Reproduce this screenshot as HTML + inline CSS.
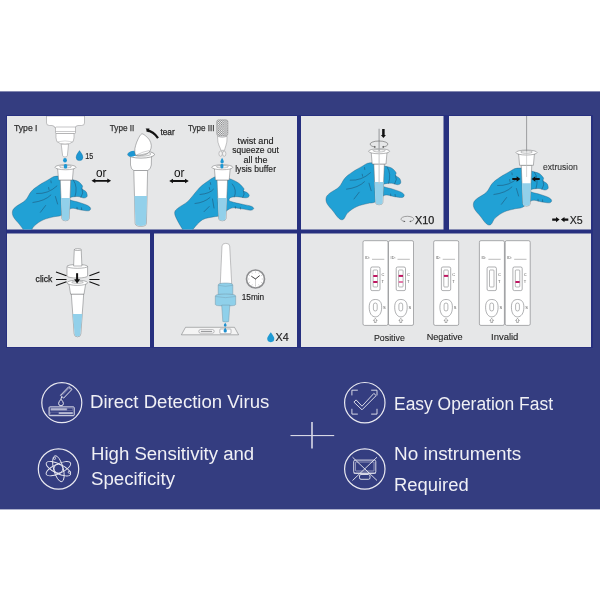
<!DOCTYPE html>
<html><head><meta charset="utf-8">
<style>
html,body{margin:0;padding:0;background:#fff;width:600px;height:600px;overflow:hidden}
svg{display:block;will-change:transform}
text{font-family:"Liberation Sans",sans-serif}
</style></head>
<body>
<svg width="600" height="600" viewBox="0 0 600 600">
<defs>
  <pattern id="chk" x="216.7" y="119.8" width="2.2" height="2.2" patternUnits="userSpaceOnUse">
    <rect x="0" y="0" width="1.1" height="1.1" fill="#7a7b7d"/><rect x="1.1" y="1.1" width="1.1" height="1.1" fill="#7a7b7d"/>
  </pattern>
  <clipPath id="c1"><rect x="7" y="116" width="290" height="113.5"/></clipPath>
  <clipPath id="c2"><rect x="301" y="116" width="142.5" height="113.5"/></clipPath>
  <clipPath id="c3"><rect x="449" y="116" width="142" height="113.5"/></clipPath>
  <g id="hand">
    <path fill="#21a1d5" stroke="#24506e" stroke-width="0.35" d="M-5.6,13.3 C-3.7,13.3 -1.8,13.1 0.0,13.6 C1.8,14.1 2.8,15.5 4.9,16.3 C7.0,17.1 10.4,17.4 12.4,18.5 C14.4,19.6 16.2,21.8 16.9,23.0 C17.6,24.2 16.0,25.0 16.6,26.0 C17.2,27.0 19.8,27.8 20.6,29.0 C21.4,30.2 22.0,32.5 21.6,33.5 C21.2,34.5 19.9,35.2 18.4,35.2 C16.9,35.2 14.5,33.8 12.4,33.7 C10.3,33.6 7.0,34.0 5.6,34.4 C4.2,34.8 4.0,35.5 4.0,36.0 C4.0,36.5 3.9,36.9 5.6,37.5 C7.2,38.1 11.2,38.8 13.9,39.7 C16.6,40.6 20.2,41.7 22.1,42.7 C24.0,43.7 25.0,44.8 25.1,45.7 C25.2,46.6 24.5,47.8 22.9,48.0 C21.3,48.2 18.3,47.6 15.4,47.2 C12.5,46.8 8.8,44.8 5.6,45.7 C2.4,46.6 -1.1,51.1 -4.0,52.5 C-6.9,53.9 -8.6,53.2 -11.6,54.0 C-14.6,54.8 -18.9,55.5 -22.1,57.0 C-25.4,58.5 -28.9,60.9 -31.1,63.0 C-33.4,65.1 -34.1,68.7 -35.6,69.7 C-37.1,70.7 -38.4,70.4 -40.1,69.0 C-41.9,67.6 -44.1,64.0 -46.1,61.5 C-48.1,59.0 -51.0,56.2 -52.1,54.0 C-53.2,51.8 -53.4,49.8 -52.9,48.0 C-52.4,46.2 -51.2,45.2 -49.1,43.5 C-47.0,41.8 -42.6,40.0 -40.1,37.5 C-37.6,35.0 -36.4,31.0 -34.1,28.5 C-31.9,26.0 -29.4,24.4 -26.6,22.5 C-23.9,20.6 -20.1,18.6 -17.6,17.2 C-15.1,15.8 -13.6,14.5 -11.6,13.8 C-9.6,13.2 -7.5,13.3 -5.6,13.3 Z"/>
    <g fill="none" stroke="#1f3f5c" stroke-width="0.45" stroke-linecap="round">
      <path d="M-28.9,30.7 Q-17.6,31.5 -8.6,23.2"/>
      <path d="M-32.6,39.7 Q-20.6,38.2 -14.6,32.2"/>
      <path d="M-25.1,49.5 L-19.9,42.7"/>
      <path d="M-10.1,33.7 L-7.9,41.2"/>
      <path d="M-14.6,18 L-14.3,20"/>
      <path d="M-16.9,24.7 L-16.5,26.7"/>
      <path d="M8,17.5 Q12.5,24 9.5,33.8"/>
      <path d="M16.6,26 Q18.5,30 15.5,34.5"/>
      <path d="M11.5,44.5 L11.7,46.3"/>
      <path d="M16,45 L16.2,46.8"/>
    </g>
  </g>
  <g id="hand3">
    <path fill="#21a1d5" stroke="#24506e" stroke-width="0.35" d="M-7.8,12.0 C-6.0,11.3 -4.6,11.2 -3.0,11.3 C-1.4,11.4 0.1,12.0 2.0,12.5 C4.0,13.0 6.3,13.2 8.7,14.2 C11.1,15.1 14.4,16.6 16.5,18.2 C18.6,19.8 20.7,22.2 21.5,23.5 C22.3,24.8 20.6,25.1 21.2,25.8 C21.8,26.6 24.4,27.1 25.4,28.0 C26.3,28.9 27.2,30.2 26.9,31.0 C26.6,31.8 25.7,32.7 23.7,32.8 C21.7,32.9 17.2,31.8 14.7,31.7 C12.2,31.6 10.0,31.9 8.7,32.4 C7.4,32.9 6.8,33.8 6.8,34.5 C6.8,35.2 6.4,35.8 8.7,36.6 C11.0,37.4 17.3,38.6 20.7,39.4 C24.1,40.2 27.1,40.5 28.9,41.2 C30.7,41.9 31.5,42.9 31.4,43.6 C31.3,44.3 30.2,45.2 28.2,45.2 C26.2,45.2 22.4,44.1 19.2,43.8 C15.9,43.5 12.2,42.1 8.7,43.2 C5.2,44.3 0.8,49.1 -2.0,50.5 C-4.8,51.9 -4.8,51.0 -7.8,51.7 C-10.8,52.4 -16.3,52.7 -19.8,54.7 C-23.3,56.7 -26.6,61.2 -28.8,63.7 C-31.0,66.2 -31.5,69.5 -33.0,70.0 C-34.5,70.5 -35.8,69.5 -37.8,67.0 C-39.8,64.5 -43.7,58.0 -45.3,54.7 C-46.9,51.4 -47.9,49.2 -47.6,47.2 C-47.4,45.2 -45.9,44.5 -43.8,42.7 C-41.7,41.0 -37.4,39.0 -34.8,36.7 C-32.2,34.5 -30.5,31.7 -28.3,29.2 C-26.1,26.7 -24.2,23.9 -21.8,21.7 C-19.4,19.4 -16.1,17.3 -13.8,15.7 C-11.5,14.1 -9.6,12.7 -7.8,12.0 Z"/>
    <g fill="none" stroke="#1f3f5c" stroke-width="0.45" stroke-linecap="round">
      <path d="M-22.3,29.5 Q-12.5,28.7 -8.8,24.2"/>
      <path d="M-27.3,38.5 Q-18.3,37.7 -12.3,32.5"/>
      <path d="M-18.3,46.7 L-13.1,41.5"/>
      <path d="M-9.8,34 L-8.3,43"/>
      <path d="M-12,17.5 L-11.6,19.5"/>
      <path d="M-13,22.5 L-12.6,24.5"/>
      <path d="M10,19 Q15,25 12,32"/>
      <path d="M21.2,25.8 Q23,29 20.5,32.5"/>
      <path d="M13,41.5 L13.2,43.3"/>
      <path d="M18,42.3 L18.2,44.1"/>
    </g>
  </g>
  <g id="tube">
    <path fill="#fff" stroke="#6d6e71" stroke-width="0.5" d="M-5.25,15 L-3.7,53.5 Q-3.6,55.8 0,55.8 Q3.6,55.8 3.7,53.5 L5.25,15 Z"/>
    <path fill="#92d0ea" d="M-4.45,33 L-3.45,53.5 Q-3.4,55.5 0,55.5 Q3.4,55.5 3.45,53.5 L4.45,33 Z"/>
    <path fill="#fff" stroke="#6d6e71" stroke-width="0.5" d="M-7.9,3.5 L-6.9,15 L6.9,15 L7.9,3.5 Z"/>
    <ellipse cx="0" cy="2.25" rx="10.5" ry="2.5" fill="#fff" stroke="#6d6e71" stroke-width="0.5"/>
    <ellipse cx="0" cy="1.7" rx="6" ry="1.3" fill="#f4f4f4" stroke="#6d6e71" stroke-width="0.4"/>
  </g>
  <g id="casbase">
    <rect x="0" y="0" width="25" height="84.7" rx="1.5" fill="#fff" stroke="#6d6e71" stroke-width="0.55"/>
    <text x="2.1" y="18.3" font-size="3.8" fill="#555">ID:</text>
    <path d="M9,18.6 L21.3,18.6" stroke="#555" stroke-width="0.4"/>
    <rect x="7.7" y="26.3" width="9.3" height="23.6" rx="1.5" fill="#fff" stroke="#6d6e71" stroke-width="0.55"/>
    <rect x="10.1" y="29.3" width="4.5" height="17" rx="0.8" fill="#fff" stroke="#6d6e71" stroke-width="0.5"/>
    <text x="18.6" y="35.6" font-size="4" fill="#555">C</text>
    <text x="18.6" y="42.4" font-size="4" fill="#555">T</text>
    <path d="M12.4,58.8 C16.3,58.8 18.7,61 18.7,66.5 C18.7,72.5 16,76.2 12.4,76.2 C8.8,76.2 6.2,72.5 6.2,66.5 C6.2,61 8.5,58.8 12.4,58.8 Z" fill="#fff" stroke="#6d6e71" stroke-width="0.55"/>
    <rect x="10.4" y="62.3" width="3.8" height="8" rx="1.9" fill="#fff" stroke="#6d6e71" stroke-width="0.5"/>
    <text x="20.1" y="68.6" font-size="4" fill="#555">S</text>
    <path d="M12.3,77.6 L14.2,79.8 L13.2,79.8 L13.2,81.8 L11.4,81.8 L11.4,79.8 L10.4,79.8 Z" fill="#fff" stroke="#555" stroke-width="0.45"/>
  </g>
  <g id="dblarrow">
    <path d="M-7,0 L7,0" stroke="#111" stroke-width="1.8"/>
    <path d="M-9.8,0 L-6,-2.3 L-6,2.3 Z M9.8,0 L6,-2.3 L6,2.3 Z" fill="#111"/>
  </g>
</defs>

<!-- band -->
<rect x="0" y="91.4" width="600" height="418" fill="#343d80"/>
<!-- panel gaps darker -->
<rect x="6" y="115" width="587" height="233" fill="#27307f"/>
<!-- panels -->
<rect x="7" y="116" width="290" height="113.5" fill="#e6e7e8"/>
<rect x="301" y="116" width="142.5" height="113.5" fill="#e6e7e8"/>
<rect x="449" y="116" width="142" height="113.5" fill="#e6e7e8"/>
<rect x="7" y="233.5" width="143" height="113.5" fill="#e6e7e8"/>
<rect x="154" y="233.5" width="143" height="113.5" fill="#e6e7e8"/>
<rect x="301" y="233.5" width="290" height="113.5" fill="#e6e7e8"/>

<!-- ===== Panel 1 ===== -->
<g clip-path="url(#c1)">
  <text x="14" y="131" font-size="8.6" fill="#333" textLength="23.5" lengthAdjust="spacingAndGlyphs" stroke="#333" stroke-width="0.25">Type I</text>
  <!-- bottle -->
  <path fill="#fff" stroke="#8a8b8d" stroke-width="0.5" d="M46.5,116 L46.5,123 Q46.5,125.5 49.5,125.5 L52,125.5 Q55,126 55,128 L75,128 Q75,126 78,125.5 L81.5,125.5 Q84.5,125.5 84.5,123 L84.5,116 Z"/>
  <rect x="55.5" y="127" width="20" height="6.5" rx="0.8" fill="#fff" stroke="#8a8b8d" stroke-width="0.5"/>
  <path d="M55.7,131.5 L75.3,131.5" stroke="#8a8b8d" stroke-width="0.45"/>
  <path fill="#fff" stroke="#8a8b8d" stroke-width="0.5" d="M56,133.5 Q55.6,138 56.8,141.5 Q60,144.3 65,144.3 Q70,144.3 73.2,141.5 Q74.4,138 74,133.5 Z"/>
  <path d="M57.5,141.8 Q65,140 72.5,141.8" fill="none" stroke="#a0a1a3" stroke-width="0.4"/>
  <path fill="#fff" stroke="#8a8b8d" stroke-width="0.5" d="M61.2,144.2 L62.6,155.5 Q62.8,157 65,157 Q67.2,157 67.4,155.5 L68.5,144.2 Z"/>
  <ellipse cx="65" cy="160.3" rx="1.9" ry="2.2" fill="#1d97d3"/>
  <path d="M79.5,150.6 Q76.1,155 76.1,157.2 A3.4,3.4 0 0 0 82.9,157.2 Q82.9,155 79.5,150.6 Z" fill="#1d97d3" stroke="#1a6f9c" stroke-width="0.35"/>
  <text x="85.2" y="158.8" font-size="9.6" fill="#222" stroke="#222" stroke-width="0.15" textLength="8" lengthAdjust="spacingAndGlyphs">15</text>
  <use href="#hand" transform="translate(65.5,162.8)"/>
  <use href="#tube" transform="translate(65.5,165)"/>
  <rect x="63.8" y="164" width="3.4" height="4.5" rx="1.5" fill="#1d97d3"/>

  <text x="96" y="176.7" font-size="12.3" fill="#111" textLength="10.5" lengthAdjust="spacingAndGlyphs">or</text>
  <use href="#dblarrow" transform="translate(101.3,180.8)"/>

  <text x="109.8" y="131" font-size="8.8" fill="#333" textLength="24.6" lengthAdjust="spacingAndGlyphs" stroke="#333" stroke-width="0.25">Type II</text>
  <path d="M146.5,130.3 Q153.5,131 158,138.2" fill="none" stroke="#111" stroke-width="2.2"/>
  <path d="M145.6,128.6 L149.5,128.6 L148.5,132.4 Z" fill="#111"/>
  <text x="160.5" y="135" font-size="8.6" fill="#222" textLength="14.2" lengthAdjust="spacingAndGlyphs" stroke="#222" stroke-width="0.25">tear</text>
  <!-- type II tube -->
  <path fill="#fff" stroke="#6d6e71" stroke-width="0.5" d="M133.8,170.5 L135.2,223.5 Q135.3,226.3 140.8,226.3 Q146.3,226.3 146.4,223.5 L147.6,170.5 Z"/>
  <path fill="#92d0ea" d="M134.4,196 L135.5,223.3 Q135.6,226 140.8,226 Q146,226 146.1,223.3 L147.1,196 Z"/>
  <path fill="#fff" stroke="#6d6e71" stroke-width="0.5" d="M130.5,155 L130.5,165 Q131,169.5 133.8,170.5 L147.6,170.5 Q150.8,169.5 151.3,165 L151.5,155 Z"/>
  <ellipse cx="141" cy="154.5" rx="13.5" ry="3.6" fill="#fff" stroke="#6d6e71" stroke-width="0.6"/>
  <ellipse cx="141.5" cy="154" rx="9.5" ry="2.2" fill="#f2f2f2" stroke="#6d6e71" stroke-width="0.4"/>
  <path d="M127.6,154 Q129,151 134.5,150.8 L136,155.5 Q133,157 129.5,156.5 Q127.5,155.5 127.6,154 Z" fill="#1d97d3"/>
  <path fill="#fff" stroke="#6d6e71" stroke-width="0.5" d="M141.6,134.0 C142.8,133.5 144.2,134.8 145.5,135.8 C146.8,136.8 148.5,138.4 149.5,140.0 C150.5,141.6 151.2,143.8 151.3,145.5 C151.4,147.2 151.0,149.1 150.2,150.5 C149.3,151.9 148.4,153.3 146.2,154.2 C144.0,155.1 138.9,156.1 137.0,155.7 C135.1,155.2 135.0,153.2 134.8,151.5 C134.6,149.8 135.0,147.6 135.6,145.5 C136.2,143.4 137.2,140.7 138.2,138.8 C139.2,136.9 140.4,134.5 141.6,134.0 Z"/>
  <path d="M136.5,155 Q143,151.5 149.5,150.5" fill="none" stroke="#8a8b8d" stroke-width="0.4"/>
  <path d="M136,155.4 Q142,154.8 148,153" fill="none" stroke="#6d6e71" stroke-width="0.4"/>

  <text x="174" y="176.5" font-size="12.3" fill="#111" textLength="10.5" lengthAdjust="spacingAndGlyphs">or</text>
  <use href="#dblarrow" transform="translate(179,181)"/>

  <text x="188" y="130.7" font-size="8.8" fill="#333" textLength="26.5" lengthAdjust="spacingAndGlyphs" stroke="#333" stroke-width="0.25">Type III</text>
  <!-- ampoule -->
  <rect x="216.7" y="119.8" width="11.2" height="16" rx="2" fill="#fff" stroke="#8a8b8d" stroke-width="0.5"/>
  <rect x="216.7" y="119.8" width="11.2" height="16" rx="2" fill="url(#chk)"/>
  <path fill="#fff" stroke="#8a8b8d" stroke-width="0.5" d="M217.5,136.4 Q222.3,138.2 227.1,136.4 Q227.2,143 225.8,146 Q224.8,148.5 224.6,150.3 L220.8,150.3 Q220.6,148.5 219.2,146 Q217.5,143 217.5,136.4 Z"/>
  <ellipse cx="220.6" cy="153.7" rx="1.7" ry="2.6" fill="#f2f2f2" stroke="#8a8b8d" stroke-width="0.45"/>
  <ellipse cx="224.2" cy="153.7" rx="1.7" ry="2.6" fill="#f2f2f2" stroke="#8a8b8d" stroke-width="0.45"/>
  <path d="M222.1,157.8 Q220.4,160.5 220.4,161.8 A1.7,1.7 0 0 0 223.8,161.8 Q223.8,160.5 222.1,157.8 Z" fill="#1d97d3"/>
  <g font-size="8.8" fill="#222" text-anchor="middle" stroke="#222" stroke-width="0.15">
    <text x="255.6" y="143.6" textLength="36" lengthAdjust="spacingAndGlyphs">twist and</text>
    <text x="255.5" y="153.2" textLength="46.6" lengthAdjust="spacingAndGlyphs">squeeze out</text>
    <text x="255.6" y="162.7" textLength="24" lengthAdjust="spacingAndGlyphs">all the</text>
    <text x="255.6" y="171.7" textLength="40.8" lengthAdjust="spacingAndGlyphs">lysis buffer</text>
  </g>
  <use href="#hand3" transform="translate(222.3,165)"/>
  <use href="#tube" transform="translate(222.3,165)"/>
  <rect x="220.4" y="164" width="3" height="4.5" rx="1.4" fill="#1d97d3"/>
</g>

<!-- ===== Panel 2 ===== -->
<g clip-path="url(#c2)">
  <use href="#hand" transform="translate(379.1,149.5)"/>
  <use href="#tube" transform="translate(379.1,149)"/>
  <path d="M379.1,128.8 L379.1,151" stroke="#a7a9ab" stroke-width="1.3"/>
  <path d="M379.1,151 L379.1,184" stroke="#c4c5c7" stroke-width="1"/>
  <path d="M383.4,129 L383.4,135.2" stroke="#111" stroke-width="2.5"/>
  <path d="M380.9,134.9 L385.9,134.9 L383.4,137.9 Z" fill="#111"/>
  <path d="M374.89,147.04 A8.9,3.2 0 1 1 383.11,147.04" fill="none" stroke="#555" stroke-width="0.55"/><path d="M376.15,146.94 L374.19,145.78 L374.19,147.88 Z M381.85,146.94 L383.81,145.78 L383.81,147.88 Z" fill="#555"/>
  <text x="415" y="224" font-size="10.5" fill="#222" textLength="19.3" lengthAdjust="spacingAndGlyphs" stroke="#222" stroke-width="0.25">X10</text>
  <path d="M404.42,221.58 A6.35,2.8 0 1 1 410.28,221.58" fill="none" stroke="#555" stroke-width="0.5"/><path d="M405.50,221.48 L403.82,220.50 L403.82,222.30 Z M409.20,221.48 L410.88,220.50 L410.88,222.30 Z" fill="#555"/>
</g>

<!-- ===== Panel 3 ===== -->
<g clip-path="url(#c3)">
  <use href="#hand" transform="translate(526.5,154.8)"/>
  <use href="#tube" transform="translate(526.5,150.3)"/>
  <path d="M526.6,116 L526.6,151.5" stroke="#8a8b8d" stroke-width="0.8"/>
  <path d="M526.6,151.5 L526.6,177" stroke="#b9babc" stroke-width="0.6"/>
  <path d="M512.3,179 L517.2,179" stroke="#111" stroke-width="2"/>
  <path d="M516.6,176.2 L520.4,179 L516.6,181.8 Z" fill="#111"/>
  <path d="M539.7,179 L534.8,179" stroke="#111" stroke-width="2"/>
  <path d="M535.4,176.2 L531.6,179 L535.4,181.8 Z" fill="#111"/>
  <text x="543" y="169.7" font-size="9.2" fill="#333" stroke="#333" stroke-width="0.1" textLength="34.7" lengthAdjust="spacingAndGlyphs">extrusion</text>
  <path d="M552.2,219.6 L557,219.6 M568.3,219.6 L563.5,219.6" stroke="#111" stroke-width="2.1"/>
  <path d="M556,216.9 L559.6,219.6 L556,222.3 Z M564.5,216.9 L560.9,219.6 L564.5,222.3 Z" fill="#111"/>
  <text x="569.7" y="223.9" font-size="10.5" fill="#222" stroke="#222" stroke-width="0.15" textLength="13" lengthAdjust="spacingAndGlyphs">X5</text>
</g>

<!-- ===== Panel 4 ===== -->
<g>
  <path fill="#fff" stroke="#6d6e71" stroke-width="0.5" d="M71.3,294 L74.2,334 Q74.3,336.8 77.5,336.8 Q80.7,336.8 80.8,334 L83.7,294 Z"/>
  <path fill="#92d0ea" d="M72.7,314 L74.6,334 Q74.7,336.5 77.5,336.5 Q80.3,336.5 80.4,334 L82.3,314 Z"/>
  <path fill="#fff" stroke="#6d6e71" stroke-width="0.5" d="M68.8,283 L70.6,294.1 L84,294.1 L85.8,283 Z"/>
  <ellipse cx="77.3" cy="282.8" rx="10.3" ry="2.6" fill="#fff" stroke="#6d6e71" stroke-width="0.5"/>
  <ellipse cx="77.5" cy="282.3" rx="5.8" ry="1.1" fill="#f0f0f0" stroke="#6d6e71" stroke-width="0.4"/>
  <path fill="#fff" stroke="#6d6e71" stroke-width="0.5" d="M67,266.4 L67,276 A10.3,2 0 0 0 87.6,276 L87.6,266.4 Z"/>
  <ellipse cx="77.3" cy="266.4" rx="10.3" ry="1.9" fill="#fff" stroke="#6d6e71" stroke-width="0.5"/>
  <path fill="#fff" stroke="#6d6e71" stroke-width="0.5" d="M73.6,266 L74.3,249.6 L81.2,249.6 L81.9,266 Z"/>
  <ellipse cx="77.75" cy="249.6" rx="3.45" ry="0.9" fill="#fff" stroke="#6d6e71" stroke-width="0.5"/>
  <path d="M77.1,273.2 L77.1,280" stroke="#111" stroke-width="2"/>
  <path d="M74.2,279.3 L80.1,279.3 L77.1,283.6 Z" fill="#111"/>
  <path d="M56,272 L66.5,275.7 M56,279.5 L66.5,279.5 M56,285.4 L66.5,281.7" stroke="#111" stroke-width="1.1"/>
  <path d="M99.5,272 L89.4,275.7 M99.5,279.5 L89.4,279.5 M99.5,285.4 L89.4,281.7" stroke="#111" stroke-width="1.1"/>
  <text x="35.6" y="281.9" font-size="9" fill="#222" textLength="16.7" lengthAdjust="spacingAndGlyphs" stroke="#222" stroke-width="0.25">click</text>
</g>

<!-- ===== Panel 5 ===== -->
<g>
  <path fill="#fff" stroke="#8a8b8d" stroke-width="0.5" d="M220.3,284 L222,246 Q222.3,243.3 225.85,243.3 Q229.4,243.3 229.7,246 L231.7,284 Z"/>
  <path fill="#8fd0ea" stroke="#6d8fa0" stroke-width="0.45" d="M218.2,285 Q218.2,283 225.5,283 Q232.8,283 232.8,285 L232.8,294.5 L218.2,294.5 Z"/>
  <path d="M218.2,285.3 Q225.5,287.3 232.8,285.3" fill="none" stroke="#6d8fa0" stroke-width="0.35"/>
  <path fill="#8fd0ea" stroke="#6d8fa0" stroke-width="0.45" d="M215.3,296 Q215.3,294 225.5,294 Q235.7,294 235.7,296 L235.7,304.3 Q235.7,305.3 233.5,305.6 Q225.5,306.6 217.5,305.6 Q215.3,305.3 215.3,304.3 Z"/>
  <path d="M215.5,296.5 Q225.5,298.8 235.5,296.5" fill="none" stroke="#6d8fa0" stroke-width="0.35"/>
  <path fill="#8fd0ea" stroke="#6d8fa0" stroke-width="0.45" d="M221.7,305.1 L222.8,321.5 Q225.7,322.6 228.7,321.5 L229.8,305.1 Z"/>
  <path d="M225.2,322.8 Q223.8,324.6 223.8,325.3 A1.4,1.4 0 0 0 226.6,325.3 Q226.6,324.6 225.2,322.8 Z" fill="#1e8fcf"/>
  <path fill="#f4f4f4" stroke="#6d6e71" stroke-width="0.5" d="M181.4,334.8 L185.5,327.3 L234.5,327.3 L238.6,334.8 Z"/>
  <rect x="198.9" y="329.6" width="15.2" height="3.5" rx="1.5" fill="#fff" stroke="#6d6e71" stroke-width="0.45"/>
  <path d="M200.8,331.35 L212.2,331.35" stroke="#8a8b8d" stroke-width="1"/>
  <path d="M220.5,329 L230.3,329 Q231,329 231,329.8 L231,333 Q231,333.7 230.3,333.7 L220.6,333.7 Q219.9,333.7 219.9,333 L219.9,329.8 Q219.9,329 220.5,329 Z" fill="#fff" stroke="#6d6e71" stroke-width="0.45"/>
  <path d="M225.2,327.6 Q223.6,330 223.6,331 A1.6,1.6 0 0 0 226.8,331 Q226.8,330 225.2,327.6 Z" fill="#1e8fcf"/>
  <circle cx="255.5" cy="279" r="9" fill="#fff" stroke="#8d8e90" stroke-width="1.6"/>
  <path d="M255.50,272.80 L255.50,271.40 M258.60,273.63 L259.30,272.42 M260.87,275.90 L262.08,275.20 M261.70,279.00 L263.10,279.00 M260.87,282.10 L262.08,282.80 M258.60,284.37 L259.30,285.58 M255.50,285.20 L255.50,286.60 M252.40,284.37 L251.70,285.58 M250.13,282.10 L248.92,282.80 M249.30,279.00 L247.90,279.00 M250.13,275.90 L248.92,275.20 M252.40,273.63 L251.70,272.42" stroke="#9a9b9d" stroke-width="0.45"/>
  <path d="M255.5,279 L251.6,276.4 M255.5,279 L259.4,275.8" stroke="#333" stroke-width="0.9" stroke-linecap="round"/>
  <path d="M255.5,279 L255.5,285.5" stroke="#999" stroke-width="0.4"/>
  <text x="241.7" y="299.6" font-size="8.6" fill="#222" stroke="#222" stroke-width="0.15" textLength="22.5" lengthAdjust="spacingAndGlyphs">15min</text>
  <path d="M270.8,332.3 Q267.2,337 267.2,338.6 A3.55,3.55 0 0 0 274.3,338.6 Q274.3,337 270.8,332.3 Z" fill="#1e9ad3"/>
  <text x="275.5" y="341.4" font-size="10.5" fill="#222" stroke="#222" stroke-width="0.15" textLength="13.2" lengthAdjust="spacingAndGlyphs">X4</text>
</g>

<!-- ===== Panel 6 ===== -->
<g>
  <use href="#casbase" transform="translate(363,240.7)"/>
  <path d="M373.2,275.9 L377.5,275.9 M373.2,282 L377.5,282" stroke="#bf1762" stroke-width="2"/>
  <use href="#casbase" transform="translate(388.5,240.7)"/>
  <path d="M398.7,275.9 L403,275.9" stroke="#bf1762" stroke-width="2"/><path d="M398.7,282 L403,282" stroke="#e27aa9" stroke-width="2"/>
  <use href="#casbase" transform="translate(433.7,240.7)"/>
  <path d="M443.9,275.9 L448.2,275.9" stroke="#bf1762" stroke-width="2"/>
  <use href="#casbase" transform="translate(479.4,240.7)"/>
  <use href="#casbase" transform="translate(505.2,240.7)"/>
  <path d="M515.4,282 L519.7,282" stroke="#bf1762" stroke-width="2"/>
  <g font-size="9.4" fill="#222" stroke="#222" stroke-width="0.1">
    <text x="374" y="340.5" textLength="30.8" lengthAdjust="spacingAndGlyphs">Positive</text>
    <text x="426.7" y="339.8" textLength="36" lengthAdjust="spacingAndGlyphs">Negative</text>
    <text x="491" y="340.3" textLength="27.4" lengthAdjust="spacingAndGlyphs">Invalid</text>
  </g>
</g>

<!-- ===== Bottom features ===== -->
<g fill="none" stroke="#e9e9f0" stroke-width="1">
  <circle cx="61.8" cy="402.7" r="20" stroke-width="1.2"/>
  <circle cx="58.5" cy="469" r="20.2" stroke-width="1.2"/>
  <circle cx="364.8" cy="402.7" r="20.2" stroke-width="1.2"/>
  <circle cx="364.8" cy="469" r="20.2" stroke-width="1.2"/>
  <!-- icon1 -->
  <path d="M60.5,395.3 L68.9,386.6 L72,389.4 L63.6,398.1 Z" stroke-width="1"/>
  <path d="M62.2,395.2 L69,388.2 L70.4,389.5" stroke-width="0.5"/>
  <path d="M61.6,397 L61,398.9" stroke-width="1"/>
  <path d="M61,399.2 Q58.6,402 58.6,403.4 A2.4,2.4 0 0 0 63.4,403.4 Q63.4,402 61,399.2 Z" stroke-width="1"/>
  <rect x="49.1" y="406.9" width="25.1" height="8.8" rx="0.8" stroke-width="1"/>
  <rect x="50.6" y="408.2" width="16.3" height="2.3" fill="#b4b7d2" stroke="none"/>
  <rect x="67" y="408.2" width="5.8" height="2.3" fill="none" stroke="#8d91b8" stroke-width="0.4"/>
  <rect x="58.9" y="412.1" width="13.9" height="2.1" fill="#b4b7d2" stroke="none"/>
  <rect x="50.6" y="412.1" width="8.3" height="2.1" fill="none" stroke="#8d91b8" stroke-width="0.4"/>
  <!-- atom -->
  <ellipse cx="58.4" cy="468.7" rx="13.4" ry="4.8" transform="rotate(75 58.4 468.7)" stroke-width="0.9"/>
  <ellipse cx="58.4" cy="468.7" rx="13.4" ry="4.8" transform="rotate(26 58.4 468.7)" stroke-width="0.9"/>
  <ellipse cx="58.4" cy="468.7" rx="13.4" ry="4.8" transform="rotate(-25 58.4 468.7)" stroke-width="0.9"/>
  <circle cx="58.4" cy="468.7" r="4.4" stroke-width="0.9"/>
  <circle cx="54.6" cy="458.3" r="1.1" stroke-width="0.8"/>
  <circle cx="69.4" cy="472.2" r="1.2" stroke-width="0.8"/>
  <!-- check -->
  <path d="M357.8,390.2 L351.9,390.2 L351.9,395.4 M371.2,390.2 L377,390.2 L377,395.4 M351.9,408.8 L351.9,414.1 L357.8,414.1 M377,408.8 L377,414.1 L371.2,414.1" stroke-width="0.9"/>
  <path d="M356.1,399.9 L362,406.2 L373.85,393.4 L376.15,395.6 L362,409.8 L353.9,402.1 Z" stroke-width="0.9" stroke-linejoin="round"/>
  <!-- no instruments -->
  <rect x="353.7" y="460.1" width="22.1" height="13.2" rx="1.5" stroke-width="0.9"/>
  <rect x="355.5" y="462" width="18.5" height="9" rx="0.5" stroke-width="0.5"/>
  <path d="M353.7,473.2 L375.8,473.2" stroke-width="0.8"/>
  <rect x="359.5" y="474.5" width="10.5" height="4.8" rx="1.5" stroke-width="0.9"/>
  <path d="M352.5,457.2 L377,480.5 M377,457.2 L352.5,480.5" stroke-width="0.9"/>
</g>
<g fill="#f0f0f5" font-size="18">
  <text x="90" y="407.5" textLength="179.3" lengthAdjust="spacingAndGlyphs">Direct Detection Virus</text>
  <text x="91" y="459.7" textLength="163.2" lengthAdjust="spacingAndGlyphs">High Sensitivity and</text>
  <text x="91" y="485" textLength="84" lengthAdjust="spacingAndGlyphs">Specificity</text>
  <text x="394" y="410" textLength="159" lengthAdjust="spacingAndGlyphs">Easy Operation Fast</text>
  <text x="394" y="460" textLength="127.2" lengthAdjust="spacingAndGlyphs">No instruments</text>
  <text x="394" y="490.8" textLength="74.6" lengthAdjust="spacingAndGlyphs">Required</text>
</g>
<path d="M290.5,435.6 L334.2,435.6" stroke="#e9e9f0" stroke-width="1"/>
<path d="M312,421.9 L312,448.5" stroke="#d9d9e6" stroke-width="1.6"/>
</svg>
</body></html>
